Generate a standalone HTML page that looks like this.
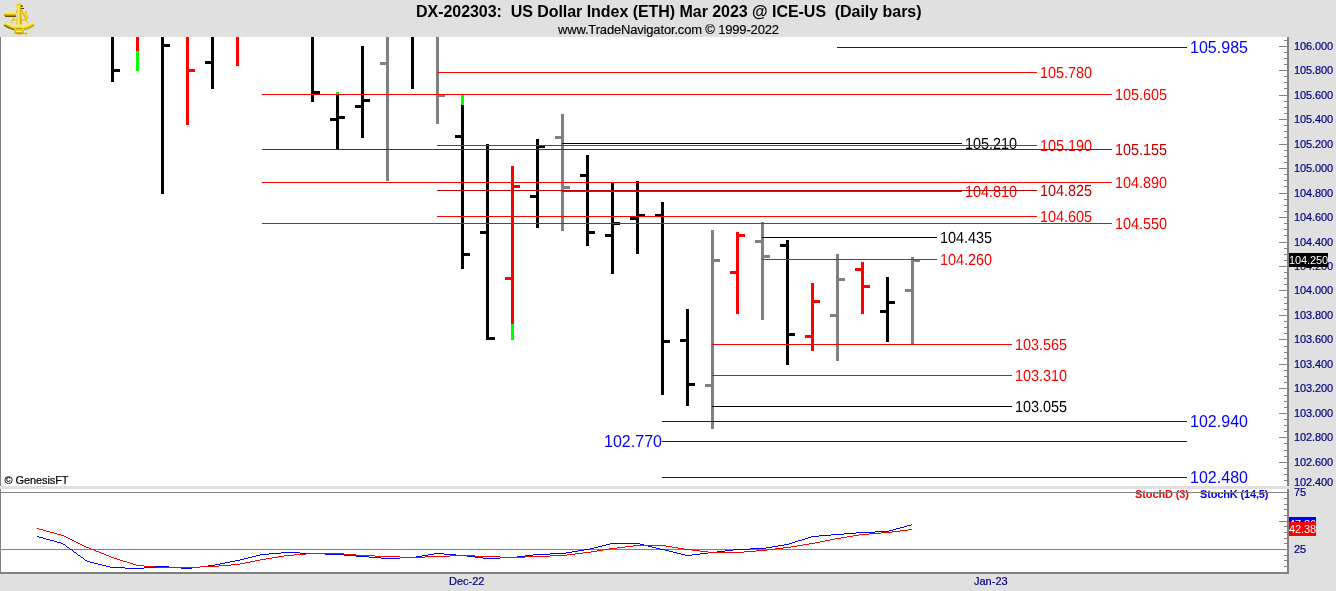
<!DOCTYPE html>
<html lang="en"><head><meta charset="utf-8"><title>DX-202303: US Dollar Index (ETH) Mar 2023 @ ICE-US (Daily bars)</title>
<style>
html,body{margin:0;padding:0;background:#e0e0e0;overflow:hidden}
body{width:1336px;height:591px;position:relative;font-family:"Liberation Sans",sans-serif}
svg{position:absolute;left:0;top:0;display:block}
svg text{font-family:"Liberation Sans",sans-serif;white-space:pre}
rect,polyline{shape-rendering:crispEdges}
</style></head><body>
<svg width="1336" height="591" viewBox="0 0 1336 591">
<g id="logo">
<defs>
<linearGradient id="gv" x1="0" y1="0" x2="0" y2="1"><stop offset="0" stop-color="#fff68a"/><stop offset=".45" stop-color="#f3d11c"/><stop offset=".8" stop-color="#8a6a00"/><stop offset="1" stop-color="#3a2c00"/></linearGradient>
<linearGradient id="gh" x1="0" y1="0" x2="1" y2="0"><stop offset="0" stop-color="#d9b400"/><stop offset=".35" stop-color="#fff27a"/><stop offset=".7" stop-color="#f0cc10"/><stop offset="1" stop-color="#9a7a00"/></linearGradient>
<linearGradient id="ga" x1="0" y1="0" x2="0" y2="1"><stop offset="0" stop-color="#fff27a"/><stop offset=".5" stop-color="#f2d01a"/><stop offset="1" stop-color="#b89600"/></linearGradient>
</defs>
<path d="M5.05 23.77 A24.25 24.25 0 0 0 33.15 23.77" fill="none" stroke="#f3d21c" stroke-width="4.5"/>
<path d="M4.10 25.11 A25.9 25.9 0 0 0 16.39 29.76" fill="none" stroke="#5a4600" stroke-width="1.5" opacity=".75"/>
<path d="M21.81 29.76 A25.9 25.9 0 0 0 34.10 25.11" fill="none" stroke="#b08e00" stroke-width="1.5" opacity=".7"/>
<path d="M5.89 22.58 A22.8 22.8 0 0 0 32.31 22.58" fill="none" stroke="#fff384" stroke-width="1.4" opacity=".8"/>
<path d="M17.6 9 L10.6 23.6 M20.6 9 L27.8 23.6 M12.6 20.2 H26 M22.2 10.5 L26.6 20" fill="none" stroke="#fffbe0" stroke-width="2" opacity=".6"/>
<path d="M18.2 8 L11 23.4 M20 8 L27.8 23.2 M12.8 20 H26.4 M22 10.5 L26.5 19.5" fill="none" stroke="#e6c010" stroke-width="1.3"/>
<path d="M24.3 11.5 l2.2 -0.8 l1 3.2 l-1.2 .6 l1.6 1 l.7 3 l-1.9 .4 z" fill="#f0cf18"/>
<rect x="4.2" y="11.9" width="11.8" height="5.2" rx="1.6" fill="url(#gv)"/>
<path d="M17.3 7 H20.9 L21.6 25.2 H16.4 Z" fill="url(#gh)"/>
<path d="M14.6 25.6 Q14.6 24.6 16.2 24.6 H22 Q23.8 24.6 23.8 25.8 L23.6 33.6 Q19.2 35.6 14.4 33.6 Z" fill="url(#ga)"/>
<rect x="15.8" y="28.2" width="6.6" height="0.9" fill="#b59200"/>
<rect x="16" y="30.8" width="6" height="1" fill="#fff7a8"/>
<path d="M15.3 6.8 Q15.3 4.6 17.2 3.8 Q18.4 2.7 19.4 2.9 Q21 3.4 22.2 4.8 Q22.9 5.8 22.7 7.5 L15.6 7.5 Z" fill="#f4d31c"/>
<path d="M20.4 5.6 L22.4 5.2 L22.9 6.9 L20.8 6.9 Z" fill="#4a3a00" opacity=".85"/>
<path d="M15.4 6.2 H20 V7.2 H15.4 Z" fill="#fff27a"/>
<rect x="21" y="7.6" width="3.2" height="1.2" fill="#4a3a00"/>
<rect x="25.6" y="32" width="1.8" height="3" fill="#e8c412"/>
<rect x="23.4" y="33" width="2.4" height="1" fill="#caa800"/>
</g>
<rect x="0" y="37" width="1287" height="449" fill="#fff"/>
<rect x="0" y="489" width="1287" height="83" fill="#fff"/>
<rect x="0" y="37" width="1" height="449" fill="#808080"/>
<rect x="0" y="489" width="1" height="84" fill="#808080"/>
<rect x="111" y="37" width="3" height="45" fill="#000000"/>
<rect x="114" y="69" width="6" height="3" fill="#000000"/>
<rect x="136" y="37" width="3" height="14" fill="#ff0000"/>
<rect x="136" y="51" width="3" height="20" fill="#00ff00"/>
<rect x="161" y="37" width="3" height="157" fill="#000000"/>
<rect x="164" y="44" width="6" height="3" fill="#000000"/>
<rect x="186" y="37" width="3" height="88" fill="#ff0000"/>
<rect x="189" y="69" width="6" height="3" fill="#ff0000"/>
<rect x="211" y="37" width="3" height="52" fill="#000000"/>
<rect x="205" y="61" width="6" height="3" fill="#000000"/>
<rect x="236" y="37" width="3" height="29" fill="#ff0000"/>
<rect x="311" y="37" width="3" height="65" fill="#000000"/>
<rect x="314" y="91" width="6" height="3" fill="#000000"/>
<rect x="336" y="94" width="3" height="55" fill="#000000"/>
<rect x="336" y="92" width="3" height="2" fill="#00ff00"/>
<rect x="330" y="118" width="6" height="3" fill="#000000"/>
<rect x="339" y="116" width="6" height="3" fill="#000000"/>
<rect x="361" y="46" width="3" height="92" fill="#000000"/>
<rect x="355" y="105" width="6" height="3" fill="#000000"/>
<rect x="364" y="99" width="6" height="3" fill="#000000"/>
<rect x="386" y="37" width="3" height="144" fill="#808080"/>
<rect x="380" y="62" width="6" height="3" fill="#808080"/>
<rect x="411" y="37" width="3" height="52" fill="#000000"/>
<rect x="436" y="37" width="3" height="87" fill="#808080"/>
<rect x="439" y="94" width="6" height="3" fill="#808080"/>
<rect x="461" y="105" width="3" height="164" fill="#000000"/>
<rect x="461" y="95" width="3" height="10" fill="#00ff00"/>
<rect x="455" y="135" width="6" height="3" fill="#000000"/>
<rect x="464" y="253" width="6" height="3" fill="#000000"/>
<rect x="486" y="144" width="3" height="196" fill="#000000"/>
<rect x="480" y="231" width="6" height="3" fill="#000000"/>
<rect x="489" y="337" width="6" height="3" fill="#000000"/>
<rect x="511" y="166" width="3" height="158" fill="#ff0000"/>
<rect x="511" y="324" width="3" height="16" fill="#00ff00"/>
<rect x="505" y="277" width="6" height="3" fill="#ff0000"/>
<rect x="514" y="185" width="6" height="3" fill="#ff0000"/>
<rect x="536" y="139" width="3" height="89" fill="#000000"/>
<rect x="530" y="195" width="6" height="3" fill="#000000"/>
<rect x="539" y="145" width="6" height="3" fill="#000000"/>
<rect x="561" y="114" width="3" height="117" fill="#808080"/>
<rect x="555" y="136" width="6" height="3" fill="#808080"/>
<rect x="564" y="186" width="6" height="3" fill="#808080"/>
<rect x="586" y="155" width="3" height="91" fill="#000000"/>
<rect x="580" y="174" width="6" height="3" fill="#000000"/>
<rect x="589" y="231" width="6" height="3" fill="#000000"/>
<rect x="611" y="183" width="3" height="91" fill="#000000"/>
<rect x="605" y="234" width="6" height="3" fill="#000000"/>
<rect x="614" y="222" width="6" height="3" fill="#000000"/>
<rect x="636" y="181" width="3" height="73" fill="#000000"/>
<rect x="630" y="217" width="6" height="3" fill="#000000"/>
<rect x="639" y="214" width="6" height="3" fill="#000000"/>
<rect x="661" y="202" width="3" height="193" fill="#000000"/>
<rect x="655" y="214" width="6" height="3" fill="#000000"/>
<rect x="664" y="340" width="6" height="3" fill="#000000"/>
<rect x="686" y="309" width="3" height="97" fill="#000000"/>
<rect x="680" y="339" width="6" height="3" fill="#000000"/>
<rect x="689" y="383" width="6" height="3" fill="#000000"/>
<rect x="711" y="230" width="3" height="199" fill="#808080"/>
<rect x="705" y="384" width="6" height="3" fill="#808080"/>
<rect x="714" y="259" width="6" height="3" fill="#808080"/>
<rect x="736" y="232" width="3" height="82" fill="#ff0000"/>
<rect x="730" y="271" width="6" height="3" fill="#ff0000"/>
<rect x="739" y="234" width="6" height="3" fill="#ff0000"/>
<rect x="761" y="222" width="3" height="98" fill="#808080"/>
<rect x="755" y="240" width="6" height="3" fill="#808080"/>
<rect x="764" y="255" width="6" height="3" fill="#808080"/>
<rect x="786" y="240" width="3" height="125" fill="#000000"/>
<rect x="780" y="244" width="6" height="3" fill="#000000"/>
<rect x="789" y="333" width="6" height="3" fill="#000000"/>
<rect x="811" y="283" width="3" height="68" fill="#ff0000"/>
<rect x="805" y="335" width="6" height="3" fill="#ff0000"/>
<rect x="814" y="300" width="6" height="3" fill="#ff0000"/>
<rect x="836" y="254" width="3" height="107" fill="#808080"/>
<rect x="830" y="314" width="6" height="3" fill="#808080"/>
<rect x="839" y="278" width="6" height="3" fill="#808080"/>
<rect x="861" y="262" width="3" height="52" fill="#ff0000"/>
<rect x="855" y="268" width="6" height="3" fill="#ff0000"/>
<rect x="864" y="285" width="6" height="3" fill="#ff0000"/>
<rect x="886" y="277" width="3" height="65" fill="#000000"/>
<rect x="880" y="310" width="6" height="3" fill="#000000"/>
<rect x="889" y="301" width="6" height="3" fill="#000000"/>
<rect x="911" y="257" width="3" height="87" fill="#808080"/>
<rect x="905" y="289" width="6" height="3" fill="#808080"/>
<rect x="914" y="259" width="6" height="3" fill="#808080"/>
<rect x="562" y="143" width="400" height="1" fill="#000000"/>
<text transform="translate(965,149) scale(0.9,1)" fill="#000000" font-size="16" style="text-rendering:geometricPrecision">105.210</text>
<rect x="562" y="191" width="400" height="1" fill="#ff0000"/>
<text transform="translate(965,197) scale(0.9,1)" fill="#ff0000" font-size="16" style="text-rendering:geometricPrecision">104.810</text>
<rect x="762" y="237" width="175" height="1" fill="#000000"/>
<text transform="translate(940,243) scale(0.9,1)" fill="#000000" font-size="16" style="text-rendering:geometricPrecision">104.435</text>
<rect x="762" y="259" width="175" height="1" fill="#ff0000"/>
<text transform="translate(940,265) scale(0.9,1)" fill="#ff0000" font-size="16" style="text-rendering:geometricPrecision">104.260</text>
<rect x="712" y="344" width="300" height="1" fill="#ff0000"/>
<text transform="translate(1015,350) scale(0.9,1)" fill="#ff0000" font-size="16" style="text-rendering:geometricPrecision">103.565</text>
<rect x="712" y="375" width="300" height="1" fill="#ff0000"/>
<text transform="translate(1015,381) scale(0.9,1)" fill="#ff0000" font-size="16" style="text-rendering:geometricPrecision">103.310</text>
<rect x="712" y="406" width="300" height="1" fill="#000000"/>
<text transform="translate(1015,412) scale(0.9,1)" fill="#000000" font-size="16" style="text-rendering:geometricPrecision">103.055</text>
<rect x="437" y="72" width="600" height="1" fill="#ff0000"/>
<text transform="translate(1040,78) scale(0.9,1)" fill="#ff0000" font-size="16" style="text-rendering:geometricPrecision">105.780</text>
<rect x="437" y="145" width="600" height="1" fill="#ff0000"/>
<text transform="translate(1040,151) scale(0.9,1)" fill="#ff0000" font-size="16" style="text-rendering:geometricPrecision">105.190</text>
<rect x="437" y="190" width="600" height="1" fill="#c00000"/>
<text transform="translate(1040,196) scale(0.9,1)" fill="#c00000" font-size="16" style="text-rendering:geometricPrecision">104.825</text>
<rect x="437" y="216" width="600" height="1" fill="#ff0000"/>
<text transform="translate(1040,222) scale(0.9,1)" fill="#ff0000" font-size="16" style="text-rendering:geometricPrecision">104.605</text>
<rect x="262" y="94" width="850" height="1" fill="#ff0000"/>
<text transform="translate(1115,100) scale(0.9,1)" fill="#ff0000" font-size="16" style="text-rendering:geometricPrecision">105.605</text>
<rect x="262" y="149" width="850" height="1" fill="#c00000"/>
<text transform="translate(1115,155) scale(0.9,1)" fill="#c00000" font-size="16" style="text-rendering:geometricPrecision">105.155</text>
<rect x="262" y="182" width="850" height="1" fill="#ff0000"/>
<text transform="translate(1115,188) scale(0.9,1)" fill="#ff0000" font-size="16" style="text-rendering:geometricPrecision">104.890</text>
<rect x="262" y="223" width="850" height="1" fill="#ff0000"/>
<text transform="translate(1115,229) scale(0.9,1)" fill="#ff0000" font-size="16" style="text-rendering:geometricPrecision">104.550</text>
<rect x="837" y="47" width="350" height="1" fill="#0000ff"/>
<text x="1190" y="53" fill="#0000ff" font-size="16" textLength="58" lengthAdjust="spacing">105.985</text>
<rect x="662" y="421" width="525" height="1" fill="#0000ff"/>
<text x="1190" y="427" fill="#0000ff" font-size="16" textLength="58" lengthAdjust="spacing">102.940</text>
<rect x="662" y="441" width="525" height="1" fill="#0000ff"/>
<text x="604" y="447" fill="#0000ff" font-size="16" textLength="58" lengthAdjust="spacing">102.770</text>
<rect x="662" y="477" width="525" height="1" fill="#0000ff"/>
<text x="1190" y="483" fill="#0000ff" font-size="16" textLength="58" lengthAdjust="spacing">102.480</text>
<rect x="1287" y="37" width="2" height="449" fill="#808080"/>
<rect x="1287" y="489" width="2" height="84" fill="#808080"/>
<rect x="1284" y="40" width="3" height="1" fill="#808080"/>
<rect x="1279" y="46" width="8" height="1" fill="#808080"/>
<rect x="1284" y="52" width="3" height="1" fill="#808080"/>
<rect x="1284" y="58" width="3" height="1" fill="#808080"/>
<rect x="1284" y="64" width="3" height="1" fill="#808080"/>
<rect x="1279" y="70" width="8" height="1" fill="#808080"/>
<rect x="1284" y="76" width="3" height="1" fill="#808080"/>
<rect x="1284" y="82" width="3" height="1" fill="#808080"/>
<rect x="1284" y="88" width="3" height="1" fill="#808080"/>
<rect x="1279" y="95" width="8" height="1" fill="#808080"/>
<rect x="1284" y="101" width="3" height="1" fill="#808080"/>
<rect x="1284" y="107" width="3" height="1" fill="#808080"/>
<rect x="1284" y="113" width="3" height="1" fill="#808080"/>
<rect x="1279" y="119" width="8" height="1" fill="#808080"/>
<rect x="1284" y="125" width="3" height="1" fill="#808080"/>
<rect x="1284" y="131" width="3" height="1" fill="#808080"/>
<rect x="1284" y="137" width="3" height="1" fill="#808080"/>
<rect x="1279" y="144" width="8" height="1" fill="#808080"/>
<rect x="1284" y="150" width="3" height="1" fill="#808080"/>
<rect x="1284" y="156" width="3" height="1" fill="#808080"/>
<rect x="1284" y="162" width="3" height="1" fill="#808080"/>
<rect x="1279" y="168" width="8" height="1" fill="#808080"/>
<rect x="1284" y="174" width="3" height="1" fill="#808080"/>
<rect x="1284" y="180" width="3" height="1" fill="#808080"/>
<rect x="1284" y="186" width="3" height="1" fill="#808080"/>
<rect x="1279" y="193" width="8" height="1" fill="#808080"/>
<rect x="1284" y="199" width="3" height="1" fill="#808080"/>
<rect x="1284" y="205" width="3" height="1" fill="#808080"/>
<rect x="1284" y="211" width="3" height="1" fill="#808080"/>
<rect x="1279" y="217" width="8" height="1" fill="#808080"/>
<rect x="1284" y="223" width="3" height="1" fill="#808080"/>
<rect x="1284" y="229" width="3" height="1" fill="#808080"/>
<rect x="1284" y="235" width="3" height="1" fill="#808080"/>
<rect x="1279" y="242" width="8" height="1" fill="#808080"/>
<rect x="1284" y="248" width="3" height="1" fill="#808080"/>
<rect x="1284" y="254" width="3" height="1" fill="#808080"/>
<rect x="1284" y="260" width="3" height="1" fill="#808080"/>
<rect x="1279" y="266" width="8" height="1" fill="#808080"/>
<rect x="1284" y="272" width="3" height="1" fill="#808080"/>
<rect x="1284" y="278" width="3" height="1" fill="#808080"/>
<rect x="1284" y="284" width="3" height="1" fill="#808080"/>
<rect x="1279" y="290" width="8" height="1" fill="#808080"/>
<rect x="1284" y="297" width="3" height="1" fill="#808080"/>
<rect x="1284" y="303" width="3" height="1" fill="#808080"/>
<rect x="1284" y="309" width="3" height="1" fill="#808080"/>
<rect x="1279" y="315" width="8" height="1" fill="#808080"/>
<rect x="1284" y="321" width="3" height="1" fill="#808080"/>
<rect x="1284" y="327" width="3" height="1" fill="#808080"/>
<rect x="1284" y="333" width="3" height="1" fill="#808080"/>
<rect x="1279" y="339" width="8" height="1" fill="#808080"/>
<rect x="1284" y="346" width="3" height="1" fill="#808080"/>
<rect x="1284" y="352" width="3" height="1" fill="#808080"/>
<rect x="1284" y="358" width="3" height="1" fill="#808080"/>
<rect x="1279" y="364" width="8" height="1" fill="#808080"/>
<rect x="1284" y="370" width="3" height="1" fill="#808080"/>
<rect x="1284" y="376" width="3" height="1" fill="#808080"/>
<rect x="1284" y="382" width="3" height="1" fill="#808080"/>
<rect x="1279" y="388" width="8" height="1" fill="#808080"/>
<rect x="1284" y="395" width="3" height="1" fill="#808080"/>
<rect x="1284" y="401" width="3" height="1" fill="#808080"/>
<rect x="1284" y="407" width="3" height="1" fill="#808080"/>
<rect x="1279" y="413" width="8" height="1" fill="#808080"/>
<rect x="1284" y="419" width="3" height="1" fill="#808080"/>
<rect x="1284" y="425" width="3" height="1" fill="#808080"/>
<rect x="1284" y="431" width="3" height="1" fill="#808080"/>
<rect x="1279" y="437" width="8" height="1" fill="#808080"/>
<rect x="1284" y="443" width="3" height="1" fill="#808080"/>
<rect x="1284" y="450" width="3" height="1" fill="#808080"/>
<rect x="1284" y="456" width="3" height="1" fill="#808080"/>
<rect x="1279" y="462" width="8" height="1" fill="#808080"/>
<rect x="1284" y="468" width="3" height="1" fill="#808080"/>
<rect x="1284" y="474" width="3" height="1" fill="#808080"/>
<rect x="1284" y="480" width="3" height="1" fill="#808080"/>
<text x="1135" y="498" fill="#ff0000" font-size="11" textLength="54" lengthAdjust="spacing" font-weight="bold">StochD (3)</text>
<text x="1200" y="498" fill="#0000ff" font-size="11" textLength="68.5" lengthAdjust="spacing" font-weight="bold">StochK (14,5)</text>
<rect x="0" y="492" width="1287" height="1" fill="#808080"/>
<rect x="0" y="549" width="1287" height="1" fill="#808080"/>
<rect x="0" y="572" width="1289" height="2" fill="#808080"/>
<rect x="1284" y="492" width="3" height="1" fill="#808080"/>
<rect x="1284" y="498" width="3" height="1" fill="#808080"/>
<rect x="1284" y="504" width="3" height="1" fill="#808080"/>
<rect x="1284" y="509" width="3" height="1" fill="#808080"/>
<rect x="1284" y="515" width="3" height="1" fill="#808080"/>
<rect x="1279" y="521" width="8" height="1" fill="#808080"/>
<rect x="1284" y="526" width="3" height="1" fill="#808080"/>
<rect x="1284" y="532" width="3" height="1" fill="#808080"/>
<rect x="1284" y="538" width="3" height="1" fill="#808080"/>
<rect x="1284" y="543" width="3" height="1" fill="#808080"/>
<rect x="1284" y="549" width="3" height="1" fill="#808080"/>
<rect x="1284" y="555" width="3" height="1" fill="#808080"/>
<rect x="1284" y="560" width="3" height="1" fill="#808080"/>
<rect x="1284" y="566" width="3" height="1" fill="#808080"/>
<path fill="#0000ff" shape-rendering="crispEdges" d="M37 536h2v1h-2zM39 537h4v1h-4zM43 538h3v1h-3zM46 539h4v1h-4zM50 540h4v1h-4zM54 541h3v1h-3zM57 542h4v1h-4zM61 543h2v1h-2zM63 544h2v1h-2zM65 545h1v1h-1zM66 546h1v1h-1zM67 547h2v1h-2zM69 548h1v1h-1zM70 549h2v1h-2zM72 550h1v1h-1zM73 551h1v1h-1zM74 552h2v1h-2zM76 553h1v1h-1zM77 554h1v1h-1zM78 555h2v1h-2zM80 556h1v1h-1zM81 557h2v1h-2zM83 558h1v1h-1zM84 559h1v1h-1zM85 560h2v1h-2zM87 561h3v1h-3zM90 562h4v1h-4zM94 563h4v1h-4zM98 564h4v1h-4zM102 565h4v1h-4zM106 566h4v1h-4zM110 567h15v1h-15zM125 568h19v1h-19zM144 567h12v1h-12zM156 566h13v1h-13zM169 567h12v1h-12zM181 568h11v1h-11zM192 567h8v1h-8zM200 566h8v1h-8zM208 565h7v1h-7zM215 564h5v1h-5zM220 563h5v1h-5zM225 562h5v1h-5zM230 561h5v1h-5zM235 560h5v1h-5zM240 559h4v1h-4zM244 558h4v1h-4zM248 557h4v1h-4zM252 556h4v1h-4zM256 555h4v1h-4zM260 554h9v1h-9zM269 553h12v1h-12zM281 552h19v1h-19zM300 553h25v1h-25zM325 554h19v1h-19zM344 555h12v1h-12zM356 556h13v1h-13zM369 557h12v1h-12zM381 558h19v1h-19zM400 557h16v1h-16zM416 556h6v1h-6zM422 555h6v1h-6zM428 554h6v1h-6zM434 553h10v1h-10zM444 554h12v1h-12zM456 555h11v1h-11zM467 556h8v1h-8zM475 557h8v1h-8zM483 558h17v1h-17zM500 557h17v1h-17zM517 556h8v1h-8zM525 555h8v1h-8zM533 554h17v1h-17zM550 553h16v1h-16zM566 552h6v1h-6zM572 551h6v1h-6zM578 550h6v1h-6zM584 549h6v1h-6zM590 548h4v1h-4zM594 547h4v1h-4zM598 546h4v1h-4zM602 545h4v1h-4zM606 544h4v1h-4zM610 543h30v1h-30zM640 544h4v1h-4zM644 545h4v1h-4zM648 546h4v1h-4zM652 547h4v1h-4zM656 548h4v1h-4zM660 549h5v1h-5zM665 550h4v1h-4zM669 551h4v1h-4zM673 552h4v1h-4zM677 553h4v1h-4zM681 554h4v1h-4zM685 555h7v1h-7zM692 554h8v1h-8zM700 553h8v1h-8zM708 552h9v1h-9zM717 551h8v1h-8zM725 550h8v1h-8zM733 549h17v1h-17zM750 548h16v1h-16zM766 547h6v1h-6zM772 546h6v1h-6zM778 545h6v1h-6zM784 544h5v1h-5zM789 543h3v1h-3zM792 542h3v1h-3zM795 541h3v1h-3zM798 540h4v1h-4zM802 539h3v1h-3zM805 538h3v1h-3zM808 537h3v1h-3zM811 536h8v1h-8zM819 535h12v1h-12zM831 534h13v1h-13zM844 533h12v1h-12zM856 532h19v1h-19zM875 531h14v1h-14zM889 530h4v1h-4zM893 529h3v1h-3zM896 528h4v1h-4zM900 527h4v1h-4zM904 526h3v1h-3zM907 525h4v1h-4zM911 524h1v1h-1z"/>
<path fill="#ff0000" shape-rendering="crispEdges" d="M37 528h2v1h-2zM39 529h4v1h-4zM43 530h3v1h-3zM46 531h4v1h-4zM50 532h4v1h-4zM54 533h3v1h-3zM57 534h4v1h-4zM61 535h3v1h-3zM64 536h2v1h-2zM66 537h2v1h-2zM68 538h2v1h-2zM70 539h2v1h-2zM72 540h2v1h-2zM74 541h2v1h-2zM76 542h2v1h-2zM78 543h2v1h-2zM80 544h2v1h-2zM82 545h2v1h-2zM84 546h2v1h-2zM86 547h3v1h-3zM89 548h2v1h-2zM91 549h3v1h-3zM94 550h2v1h-2zM96 551h3v1h-3zM99 552h2v1h-2zM101 553h3v1h-3zM104 554h2v1h-2zM106 555h3v1h-3zM109 556h2v1h-2zM111 557h3v1h-3zM114 558h3v1h-3zM117 559h3v1h-3zM120 560h3v1h-3zM123 561h4v1h-4zM127 562h3v1h-3zM130 563h3v1h-3zM133 564h3v1h-3zM136 565h8v1h-8zM144 566h12v1h-12zM156 567h44v1h-44zM200 566h19v1h-19zM219 565h12v1h-12zM231 564h9v1h-9zM240 563h5v1h-5zM245 562h5v1h-5zM250 561h5v1h-5zM255 560h5v1h-5zM260 559h6v1h-6zM266 558h6v1h-6zM272 557h6v1h-6zM278 556h6v1h-6zM284 555h10v1h-10zM294 554h12v1h-12zM306 553h38v1h-38zM344 554h12v1h-12zM356 555h19v1h-19zM375 556h25v1h-25zM400 557h25v1h-25zM425 556h25v1h-25zM450 555h25v1h-25zM475 556h25v1h-25zM500 557h25v1h-25zM525 556h25v1h-25zM550 555h17v1h-17zM567 554h8v1h-8zM575 553h8v1h-8zM583 552h8v1h-8zM591 551h6v1h-6zM597 550h6v1h-6zM603 549h6v1h-6zM609 548h8v1h-8zM617 547h8v1h-8zM625 546h8v1h-8zM633 545h33v1h-33zM666 546h6v1h-6zM672 547h6v1h-6zM678 548h6v1h-6zM684 549h8v1h-8zM692 550h8v1h-8zM700 551h8v1h-8zM708 552h36v1h-36zM744 551h12v1h-12zM756 550h11v1h-11zM767 549h8v1h-8zM775 548h8v1h-8zM783 547h8v1h-8zM791 546h6v1h-6zM797 545h6v1h-6zM803 544h6v1h-6zM809 543h6v1h-6zM815 542h5v1h-5zM820 541h5v1h-5zM825 540h5v1h-5zM830 539h5v1h-5zM835 538h6v1h-6zM841 537h6v1h-6zM847 536h6v1h-6zM853 535h6v1h-6zM859 534h10v1h-10zM869 533h12v1h-12zM881 532h11v1h-11zM892 531h8v1h-8zM900 530h8v1h-8zM908 529h4v1h-4z"/>
<text x="1294" y="50" fill="#000080" font-size="11" textLength="39" lengthAdjust="spacing" stroke="#000080" stroke-width="0.2">106.000</text>
<text x="1294" y="74" fill="#000080" font-size="11" textLength="39" lengthAdjust="spacing" stroke="#000080" stroke-width="0.2">105.800</text>
<text x="1294" y="99" fill="#000080" font-size="11" textLength="39" lengthAdjust="spacing" stroke="#000080" stroke-width="0.2">105.600</text>
<text x="1294" y="123" fill="#000080" font-size="11" textLength="39" lengthAdjust="spacing" stroke="#000080" stroke-width="0.2">105.400</text>
<text x="1294" y="148" fill="#000080" font-size="11" textLength="39" lengthAdjust="spacing" stroke="#000080" stroke-width="0.2">105.200</text>
<text x="1294" y="172" fill="#000080" font-size="11" textLength="39" lengthAdjust="spacing" stroke="#000080" stroke-width="0.2">105.000</text>
<text x="1294" y="197" fill="#000080" font-size="11" textLength="39" lengthAdjust="spacing" stroke="#000080" stroke-width="0.2">104.800</text>
<text x="1294" y="221" fill="#000080" font-size="11" textLength="39" lengthAdjust="spacing" stroke="#000080" stroke-width="0.2">104.600</text>
<text x="1294" y="246" fill="#000080" font-size="11" textLength="39" lengthAdjust="spacing" stroke="#000080" stroke-width="0.2">104.400</text>
<text x="1294" y="270" fill="#000080" font-size="11" textLength="39" lengthAdjust="spacing" stroke="#000080" stroke-width="0.2">104.200</text>
<text x="1294" y="294" fill="#000080" font-size="11" textLength="39" lengthAdjust="spacing" stroke="#000080" stroke-width="0.2">104.000</text>
<text x="1294" y="319" fill="#000080" font-size="11" textLength="39" lengthAdjust="spacing" stroke="#000080" stroke-width="0.2">103.800</text>
<text x="1294" y="343" fill="#000080" font-size="11" textLength="39" lengthAdjust="spacing" stroke="#000080" stroke-width="0.2">103.600</text>
<text x="1294" y="368" fill="#000080" font-size="11" textLength="39" lengthAdjust="spacing" stroke="#000080" stroke-width="0.2">103.400</text>
<text x="1294" y="392" fill="#000080" font-size="11" textLength="39" lengthAdjust="spacing" stroke="#000080" stroke-width="0.2">103.200</text>
<text x="1294" y="417" fill="#000080" font-size="11" textLength="39" lengthAdjust="spacing" stroke="#000080" stroke-width="0.2">103.000</text>
<text x="1294" y="441" fill="#000080" font-size="11" textLength="39" lengthAdjust="spacing" stroke="#000080" stroke-width="0.2">102.800</text>
<text x="1294" y="466" fill="#000080" font-size="11" textLength="39" lengthAdjust="spacing" stroke="#000080" stroke-width="0.2">102.600</text>
<text x="1294" y="486" fill="#000080" font-size="11" textLength="39" lengthAdjust="spacing" stroke="#000080" stroke-width="0.2">102.400</text>
<text x="1294" y="496" fill="#000080" font-size="11" textLength="12" lengthAdjust="spacing" stroke="#000080" stroke-width="0.2">75</text>
<text x="1294" y="553" fill="#000080" font-size="11" textLength="12" lengthAdjust="spacing" stroke="#000080" stroke-width="0.2">25</text>
<rect x="1289" y="253" width="39" height="14" fill="#000"/>
<text x="1289" y="264" fill="#fff" font-size="11" textLength="39" lengthAdjust="spacing">104.250</text>
<rect x="1289" y="517" width="27" height="14" fill="#0000ff"/>
<text x="1289" y="528" fill="#fff" font-size="11" textLength="27" lengthAdjust="spacing">47.36</text>
<rect x="1289" y="522" width="27" height="14" fill="#ff0000"/>
<text x="1289" y="533" fill="#fff" font-size="11" textLength="27" lengthAdjust="spacing">42.38</text>
<text x="449" y="585" fill="#000080" font-size="11" stroke="#000080" stroke-width="0.2">Dec-22</text>
<text x="974" y="585" fill="#000080" font-size="11" stroke="#000080" stroke-width="0.2">Jan-23</text>
<text x="4.5" y="484" fill="#000" font-size="11" textLength="64" lengthAdjust="spacing" stroke="#000" stroke-width="0.2">© GenesisFT</text>
<text x="416" y="17" fill="#000" font-size="16" textLength="505.5" lengthAdjust="spacing" font-weight="bold" xml:space="preserve">DX-202303:  US Dollar Index (ETH) Mar 2023 @ ICE-US  (Daily bars)</text>
<text x="558" y="33.5" fill="#000" font-size="13" textLength="221" lengthAdjust="spacing" stroke="#000" stroke-width="0.15">www.TradeNavigator.com © 1999-2022</text>

</svg>
</body></html>
